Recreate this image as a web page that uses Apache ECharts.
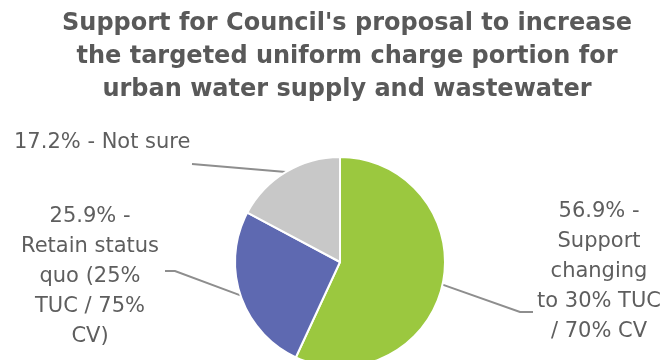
<!DOCTYPE html>
<html><head><meta charset="utf-8">
<script src="https://cdn.jsdelivr.net/npm/echarts@6/dist/echarts.min.js"></script>
<style>html,body{margin:0;padding:0;background:#fff}#c{width:672px;height:360px}</style>
</head><body><div id="c"></div>
<script>
const titleText = "Support for Council's proposal to increase\nthe targeted uniform charge portion for\nurban water supply and wastewater";
const categories = ['Support changing to 30% TUC / 70% CV', 'Retain status quo (25% TUC / 75% CV)', 'Not sure'];
const values = [56.9, 25.9, 17.2];
const labelTexts = [
  '56.9% -\nSupport\nchanging\nto 30% TUC\n/ 70% CV',
  '25.9% -\nRetain status\nquo (25%\nTUC / 75%\nCV)',
  '17.2% - Not sure'
];
const colors = ['#9BC83F', '#5E69B1', '#C8C8C8'];

// label placement (layout only)
const labelPlaces = [
  { x: 599, y: 272, align: 'center', bend: [520, 312], end: [533, 312] },
  { x: 90, y: 277, align: 'center', bend: [175, 271], end: [165, 271] },
  { x: 14, y: 143, align: 'left', bend: [192, 164], end: [192, 164] }
];

const chart = echarts.init(document.getElementById('c'), null, { renderer: 'canvas' });
chart.setOption({
  animation: false,
  title: {
    text: titleText,
    left: 342,
    textAlign: 'center',
    top: 2,
    textStyle: { fontFamily: 'DejaVu Sans', fontWeight: 'bold', fontSize: 24, color: '#595959', lineHeight: 33 }
  },
  series: [{
    type: 'pie',
    center: [340, 262],
    radius: 105,
    startAngle: 90,
    clockwise: true,
    itemStyle: { borderColor: '#fff', borderWidth: 2 },
    label: {
      show: true,
      formatter: p => labelTexts[p.dataIndex],
      fontFamily: 'DejaVu Sans',
      fontSize: 21,
      lineHeight: 30,
      color: '#5E5E5E'
    },
    labelLine: { show: true, lineStyle: { color: '#8E8E8E', width: 2 } },
    labelLayout: function (params) {
      const pl = labelPlaces[params.dataIndex];
      const p0 = params.labelLinePoints ? params.labelLinePoints[0] : pl.bend;
      return {
        x: pl.x, y: pl.y, align: pl.align, verticalAlign: 'middle',
        labelLinePoints: [p0, pl.bend, pl.end]
      };
    },
    data: categories.map((c, i) => ({ name: c, value: values[i], itemStyle: { color: colors[i] } }))
  }]
});
</script></body></html>
